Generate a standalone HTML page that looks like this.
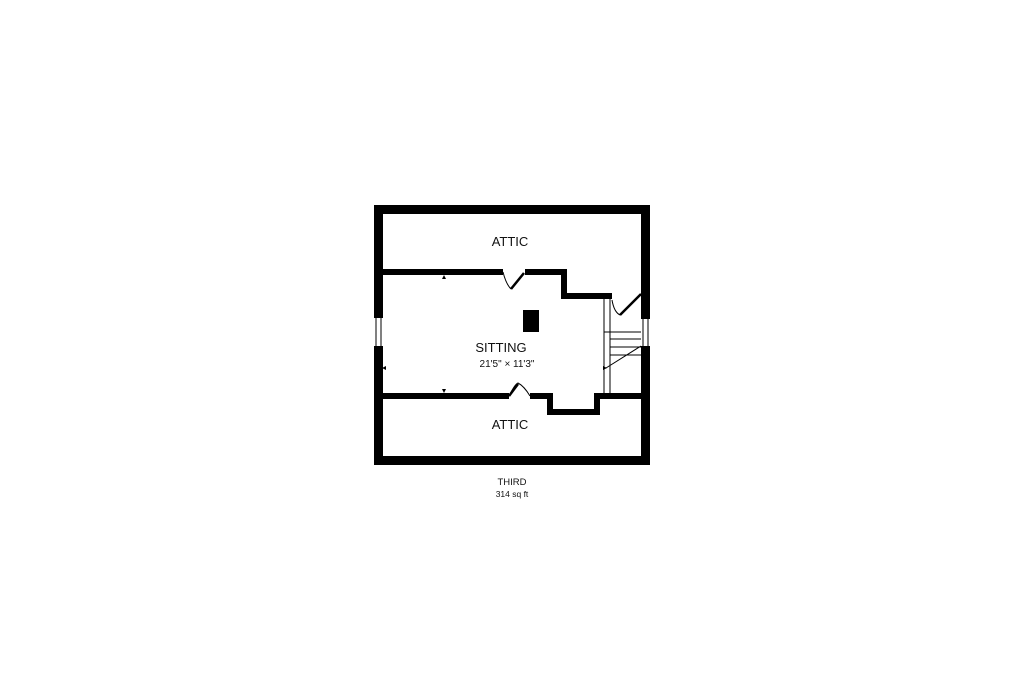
<!DOCTYPE html>
<html><head><meta charset="utf-8"><style>
html,body{margin:0;padding:0;background:#fff;width:1024px;height:683px;overflow:hidden}
svg{display:block}
text{font-family:"Liberation Sans",sans-serif;fill:#111;text-anchor:middle}
</style></head><body>
<svg width="1024" height="683" viewBox="0 0 1024 683">
<g fill="#000">
<!-- outer walls -->
<rect x="374" y="205" width="276" height="9"/>
<rect x="374" y="456" width="276" height="9"/>
<rect x="374" y="205" width="9" height="113"/>
<rect x="374" y="346" width="9" height="119"/>
<rect x="641" y="205" width="9" height="114"/>
<rect x="641" y="346" width="9" height="119"/>
<!-- top interior wall -->
<rect x="383" y="269" width="120" height="6"/>
<rect x="525" y="269" width="42" height="6"/>
<rect x="561" y="269" width="6" height="30"/>
<rect x="561" y="293" width="51" height="6"/>
<!-- bottom interior wall -->
<rect x="383" y="393" width="126" height="6"/>
<rect x="530" y="393" width="23" height="6"/>
<rect x="547" y="393" width="6" height="22"/>
<rect x="547" y="409" width="53" height="6"/>
<rect x="594" y="393" width="6" height="22"/>
<rect x="594" y="393" width="47" height="6"/>
<!-- chimney -->
<rect x="523" y="310" width="16" height="22"/>
<!-- markers -->
<path d="M442 279 l2 -4 l2 4z"/>
<path d="M442 389 l2 4 l2 -4z"/>
<path d="M386 366 l-4 2 l4 2z"/>
<path d="M603 366 l4 2 l-4 2z"/>
</g>
<g fill="none" stroke="#000" stroke-width="1">
<!-- windows -->
<line x1="376" y1="318" x2="376" y2="346"/><line x1="381" y1="318" x2="381" y2="346"/>
<line x1="643" y1="319" x2="643" y2="346"/><line x1="648" y1="319" x2="648" y2="346"/>
<!-- doors -->
<path d="M503 272 Q506 284 511 289"/>
<path d="M509 396 Q515 384 518 383 Q524 386 530 396"/>
<!-- stairs -->
<path d="M604 299 V332 H610 V299"/>
<line x1="604" y1="332" x2="604" y2="393"/><line x1="610" y1="332" x2="610" y2="393"/>
<line x1="610" y1="332" x2="641" y2="332"/>
<line x1="610" y1="339" x2="641" y2="339"/>
<line x1="610" y1="347" x2="641" y2="347"/>
<line x1="610" y1="355" x2="641" y2="355"/>
<line x1="641" y1="346" x2="606" y2="368"/>
<path d="M612 300 Q614 312 620 315"/>
</g>
<g stroke="#000" stroke-width="2.5">
<line x1="511" y1="289" x2="524" y2="273"/>
<line x1="509" y1="396" x2="518" y2="384"/>
<line x1="620" y1="315" x2="641" y2="294"/>
</g>
<text x="510" y="246" font-size="13">ATTIC</text>
<text x="501" y="352" font-size="13">SITTING</text>
<text x="507" y="367" font-size="10">21'5" × 11'3"</text>
<text x="510" y="429" font-size="13">ATTIC</text>
<text x="512" y="485" font-size="9.5">THIRD</text>
<text x="512" y="497" font-size="8.5">314 sq ft</text>
</svg>
</body></html>
